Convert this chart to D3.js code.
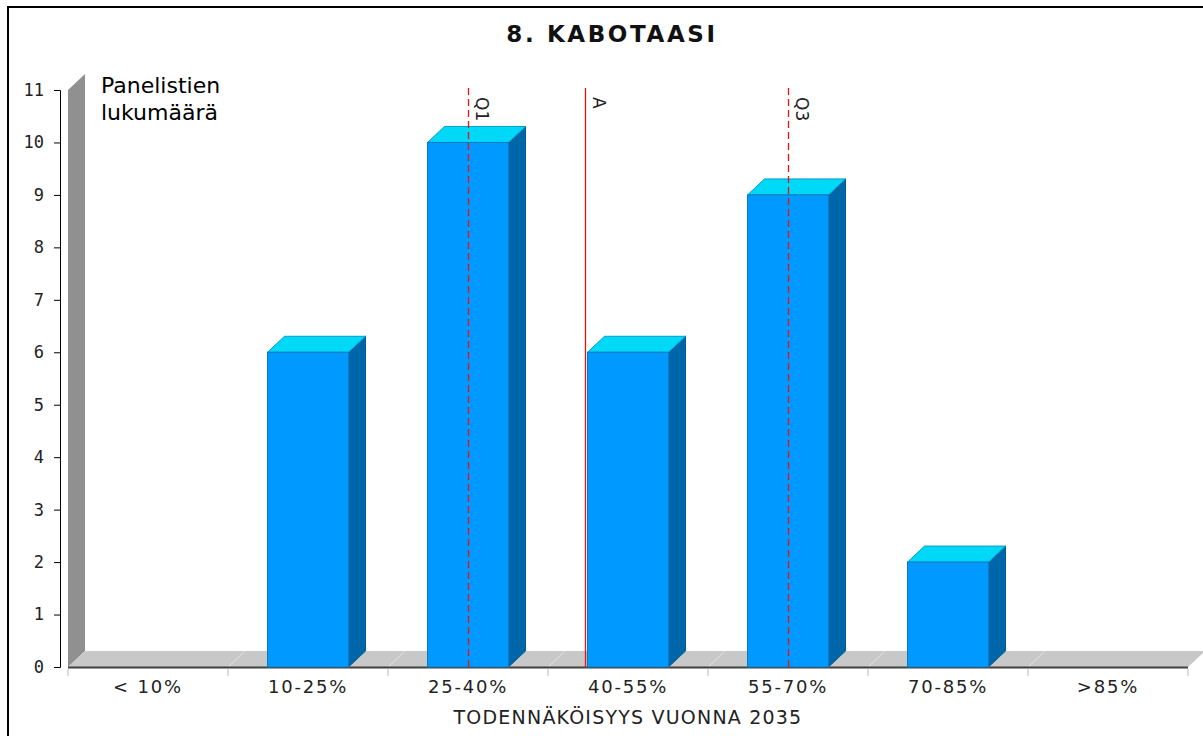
<!DOCTYPE html>
<html><head><meta charset="utf-8">
<script src="https://cdn.jsdelivr.net/npm/d3@7"></script>
<style>body{margin:0;background:#fff;}svg{display:block;}</style>
</head><body>
<script>
const categories = ["< 10%", "10-25%", "25-40%", "40-55%", "55-70%", "70-85%", ">85%"];
const counts = [0, 6, 10, 6, 9, 2, 0];
const yTicks = [0,1,2,3,4,5,6,7,8,9,10,11];
const markerNames = ["Q1", "A", "Q3"];
const markerPos = [2.5, 3.23, 4.5]; // position in category units
const markerDashed = [true, false, true];

const W = 1203, H = 736;
const svg = d3.select("body").append("svg").attr("width", W).attr("height", H);
svg.append("rect").attr("x", 8).attr("y", 7).attr("width", W+10).attr("height", H+10)
  .attr("fill", "#fff").attr("stroke", "#000").attr("stroke-width", 2);

const x0 = 68, x1 = 1188, y0 = 667, yTop = 90;
const dx = 17, dy = 16;
const x = d3.scaleBand().domain(categories).range([x0, x1]).paddingInner(0).paddingOuter(0);
const xc = d3.scaleLinear().domain([0, categories.length]).range([x0, x1]);
const y = d3.scaleLinear().domain([0, 11]).range([y0, yTop]);

// title
svg.append("text").attr("x", 612).attr("y", 42).attr("text-anchor", "middle")
  .attr("font-family", "DejaVu Sans").attr("font-weight", "bold").attr("font-size", 23)
  .attr("letter-spacing", 2.6).attr("fill", "#111")
  .text("8. KABOTAASI");

// wall
svg.append("path").attr("d", `M${x0},${y0} L${x0},${y(11)} L${x0+dx},${y(11)-dy} L${x0+dx},${y0-dy} Z`)
  .attr("fill", "#909090");
// floor
svg.append("path").attr("d", `M${x0},${y0} L${x1},${y0} L${x1+dx},${y0-dy} L${x0+dx},${y0-dy} Z`)
  .attr("fill", "#c8c8c8");
// floor grid lines
categories.forEach((c, i) => {
  if (i === 0) return;
  const xx = x(c);
  svg.append("line").attr("x1", xx).attr("y1", y0).attr("x2", xx+dx).attr("y2", y0-dy)
    .attr("stroke", "#e4e4e4").attr("stroke-width", 1);
});
svg.append("line").attr("x1", x0).attr("x2", x1).attr("y1", y0+0.5).attr("y2", y0+0.5)
  .attr("stroke", "#404040").attr("stroke-width", 2);

// y axis
const yAxis = d3.axisLeft(y).tickValues(yTicks).tickSize(6).tickPadding(10).tickFormat(d3.format("d"));
const gy = svg.append("g").attr("transform", `translate(60,0)`).call(yAxis);
gy.select(".domain").attr("stroke", "#000");
gy.selectAll("text").attr("font-family", "DejaVu Sans Mono").attr("font-size", 17).attr("fill", "#222");

// x axis
const xAxis = d3.axisBottom(x).tickSize(0).tickPadding(13);
const gx = svg.append("g").attr("transform", `translate(0,${y0})`).call(xAxis);
gx.select(".domain").remove();
gx.selectAll("text").attr("font-family", "DejaVu Sans").attr("font-size", 18)
  .attr("letter-spacing", 1.8).attr("fill", "#222");
const gt = svg.append("g").attr("transform", `translate(0,${y0})`);
d3.range(categories.length+1).forEach(i => {
  gt.append("line").attr("x1", xc(i)).attr("x2", xc(i)).attr("y1", 2).attr("y2", 9).attr("stroke", "#bbb");
});

// axis titles
svg.append("text").attr("x", 628).attr("y", 724).attr("text-anchor", "middle")
  .attr("font-family", "DejaVu Sans").attr("font-size", 19).attr("letter-spacing", 1.2).attr("fill", "#222")
  .text("TODENNÄKÖISYYS VUONNA 2035");
const yl = svg.append("text").attr("font-family", "DejaVu Sans").attr("font-size", 22).attr("fill", "#000");
yl.append("tspan").attr("x", 101).attr("y", 93).text("Panelistien");
yl.append("tspan").attr("x", 101).attr("y", 120).text("lukumäärä");

// bars
const bw = 81;
const bars = svg.append("g");
categories.forEach((c, i) => {
  const v = counts[i];
  if (v <= 0) return;
  const bx = x(c) + (x.bandwidth() - bw) / 2;
  const top = y(v);
  bars.append("path").attr("d", `M${bx+bw},${y0} L${bx+bw},${top} L${bx+bw+dx},${top-dy} L${bx+bw+dx},${y0-dy} Z`)
    .attr("fill", "#0066aa").attr("stroke", "#005b99").attr("stroke-width", 1);
  bars.append("path").attr("d", `M${bx},${top} L${bx+dx},${top-dy} L${bx+bw+dx},${top-dy} L${bx+bw},${top} Z`)
    .attr("fill", "#00d8f8").attr("stroke", "#0a9ac8").attr("stroke-width", 1);
  bars.append("rect").attr("x", bx).attr("y", top).attr("width", bw).attr("height", y0 - top)
    .attr("fill", "#0099ff").attr("stroke", "#0a7ac0").attr("stroke-width", 1);
});

// markers
markerNames.forEach((m, i) => {
  const mx = Math.round(xc(markerPos[i])) + 0.5;
  svg.append("line").attr("x1", mx).attr("x2", mx).attr("y1", 88).attr("y2", y0+1)
    .attr("stroke", "#ee1111").attr("stroke-width", 1.3)
    .attr("stroke-dasharray", markerDashed[i] ? "7,4" : null);
  svg.append("text").attr("transform", `translate(${mx+7},97) rotate(90)`)
    .attr("font-family", "DejaVu Sans").attr("font-size", 17).attr("fill", "#222")
    .text(m);
});
</script>
</body></html>
